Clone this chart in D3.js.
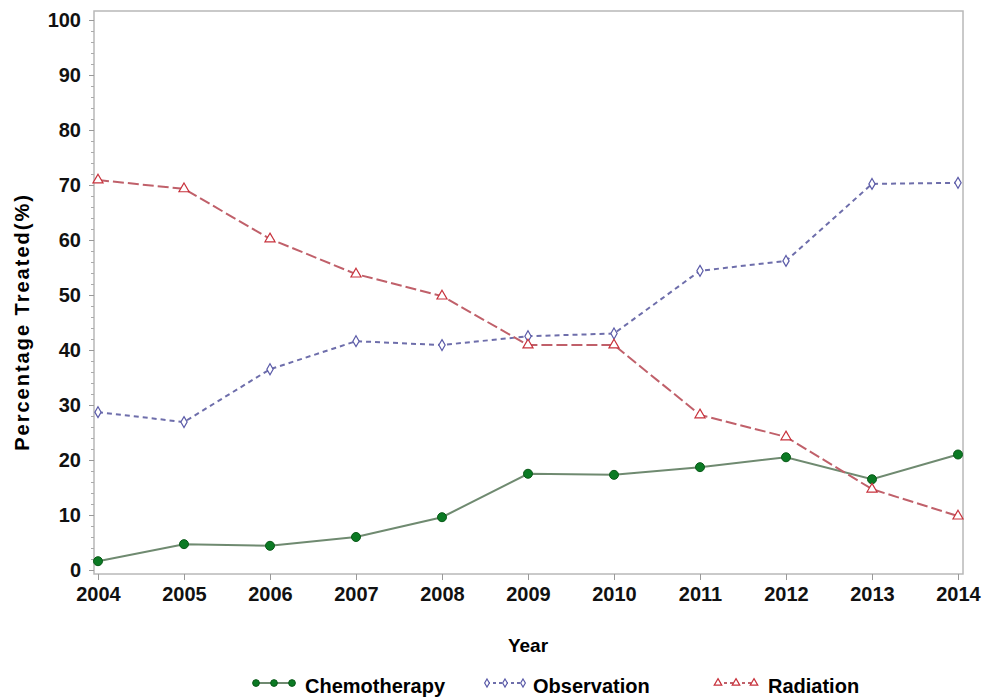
<!DOCTYPE html>
<html>
<head>
<meta charset="utf-8">
<script src="https://cdn.jsdelivr.net/npm/d3@7"></script>
<style>
body { margin: 0; background: #fff; }
text { font-family: "Liberation Sans", Arial, sans-serif; font-weight: bold; }
</style>
</head>
<body>
<div id="chart"></div>
<script>
var years = [2004, 2005, 2006, 2007, 2008, 2009, 2010, 2011, 2012, 2013, 2014];
var chemotherapy = [1.6, 4.7, 4.4, 6.0, 9.6, 17.5, 17.3, 18.7, 20.5, 16.5, 21.0];
var observation = [28.7, 26.9, 36.5, 41.6, 40.9, 42.5, 43.0, 54.4, 56.2, 70.2, 70.4];
var radiation = [70.9, 69.3, 60.2, 53.8, 49.8, 40.9, 40.9, 28.2, 24.2, 14.7, 9.8];
var yTicks = [0, 10, 20, 30, 40, 50, 60, 70, 80, 90, 100];

var W = 985, H = 700;
var plotL = 98, plotR = 958, plotT = 20, plotB = 570;

var svg = d3.select("#chart").append("svg")
    .attr("width", W)
    .attr("height", H);

var x = d3.scaleLinear().domain([2004, 2014]).range([plotL, plotR]);
var y = d3.scaleLinear().domain([0, 100]).range([plotB, plotT]);

// frame
svg.append("rect")
    .attr("x", 94).attr("y", 11)
    .attr("width", 963 - 94).attr("height", 574 - 11)
    .attr("fill", "none")
    .attr("stroke", "#b8b8b8")
    .attr("stroke-width", 1.5);

// y axis
var yAxis = svg.append("g")
    .attr("transform", "translate(94,0)")
    .call(d3.axisLeft(y).tickValues(yTicks).tickSize(5).tickPadding(8));
yAxis.select(".domain").remove();
yAxis.selectAll("line").attr("stroke", "#999");
yAxis.selectAll("text").style("font-size", "20px").attr("fill", "#111");

var yMinor = svg.append("g")
    .attr("transform", "translate(94,0)")
    .call(d3.axisLeft(y).tickValues(d3.range(0, 101, 2).filter(function (d) { return d % 10 !== 0; })).tickSize(3).tickFormat(""));
yMinor.select(".domain").remove();
yMinor.selectAll("line").attr("stroke", "#aaa");

// x axis
var xAxis = svg.append("g")
    .attr("transform", "translate(0,574)")
    .call(d3.axisBottom(x).tickValues(years).tickFormat(d3.format("d")).tickSize(6).tickPadding(7));
xAxis.select(".domain").remove();
xAxis.selectAll("line").attr("stroke", "#999");
xAxis.selectAll("text").style("font-size", "20px").attr("fill", "#111");

// axis titles
svg.append("text")
    .attr("x", (plotL + plotR) / 2)
    .attr("y", 652)
    .attr("text-anchor", "middle")
    .style("font-size", "19px")
    .text("Year");

svg.append("text")
    .attr("transform", "translate(29,322) rotate(-90)")
    .attr("text-anchor", "middle")
    .style("font-size", "20px")
    .style("letter-spacing", "2px")
    .text("Percentage Treated(%)");

var series = [
    { name: "Chemotherapy", values: chemotherapy, line: "#6f8a70", mark: "#0b7a24", dash: null, symbol: "circle" },
    { name: "Observation", values: observation, line: "#6e6eab", mark: "#5a5aa8", dash: "5,4", symbol: "diamond" },
    { name: "Radiation", values: radiation, line: "#c0606a", mark: "#c8323c", dash: "11,4", symbol: "triangle" }
];

var line = d3.line()
    .x(function (d, i) { return x(years[i]); })
    .y(function (d) { return y(d); });

function drawMarker(g, s, cx, cy, k) {
    k = k || 1;
    if (s.symbol === "circle") {
        g.append("circle").attr("cx", cx).attr("cy", cy).attr("r", 4.5 * k)
            .attr("fill", s.mark).attr("stroke", "#0a5a18").attr("stroke-width", 1);
    } else if (s.symbol === "diamond") {
        g.append("path")
            .attr("d", d3.symbol().type(d3.symbolDiamond).size(34 * k * k)())
            .attr("transform", "translate(" + cx + "," + cy + ")")
            .attr("fill", "#fff").attr("stroke", s.mark).attr("stroke-width", 1.2);
    } else {
        g.append("path")
            .attr("d", d3.symbol().type(d3.symbolTriangle).size(44 * k * k)())
            .attr("transform", "translate(" + cx + "," + cy + ")")
            .attr("fill", "#fff").attr("stroke", s.mark).attr("stroke-width", 1.2);
    }
}

series.forEach(function (s) {
    var g = svg.append("g");
    g.append("path")
        .datum(s.values)
        .attr("d", line)
        .attr("fill", "none")
        .attr("stroke", s.line)
        .attr("stroke-width", 2)
        .attr("stroke-dasharray", s.dash);
    s.values.forEach(function (v, i) {
        drawMarker(g, s, x(years[i]), y(v));
    });
});

// legend
var legendX = [256, 487, 718];
var legendText = [305, 533, 768];
series.forEach(function (s, i) {
    var g = svg.append("g").attr("transform", "translate(" + legendX[i] + ",683)");
    g.append("line")
        .attr("x1", 0).attr("x2", 36)
        .attr("stroke", s.line).attr("stroke-width", 2)
        .attr("stroke-dasharray", s.dash ? "3,3" : null);
    [0, 18, 36].forEach(function (dx) { drawMarker(g, s, dx, 0, 0.75); });
    svg.append("text")
        .attr("x", legendText[i])
        .attr("y", 693)
        .style("font-size", "20px")
        .text(s.name);
});
</script>
</body>
</html>
